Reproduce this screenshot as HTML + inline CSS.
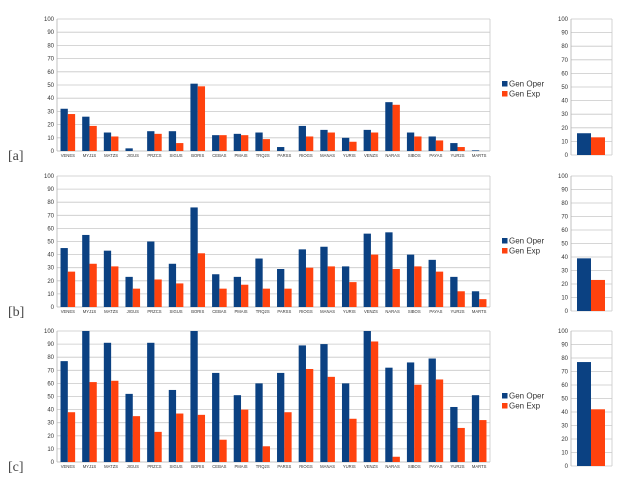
<!DOCTYPE html>
<html><head><meta charset="utf-8">
<style>
body{margin:0;background:#fff;width:629px;height:484px;overflow:hidden;font-family:"Liberation Sans",sans-serif}
svg{display:block}
</style></head>
<body>
<svg id="c" width="629" height="484" xmlns="http://www.w3.org/2000/svg"></svg>
<script>
const categories=["VENES","MYJ1S","MATZS","JIGUS","PRZCS","SIGUS","BORIS","CEBAS","PMAIS","TRQ2S","PARSS","RIOGS","MANAS","YURIS","VENZS","NARAS","SIBOS","PAYAS","YUR2S","MARTS"];
const yTicks=[0,10,20,30,40,50,60,70,80,90,100];
const operA=[32,26,14,2,15,15,51,12,13,14,3,19,16,10,16,37,14,11,6,0.5];
const expA=[28,19,11,0,13,6,49,12,12,9,0,11,14,7,14,35,11,8,3,0];
const operB=[45,55,43,23,50,33,76,25,23,37,29,44,46,31,56,57,40,36,23,12];
const expB=[27,33,31,14,21,18,41,14,17,14,14,30,31,19,40,29,31,27,12,6];
const operC=[77,100,91,52,91,55,100,68,51,60,68,89,90,60,100,72,76,79,42,51];
const expC=[38,61,62,35,23,37,36,17,40,12,38,71,65,33,92,4,59,63,26,32];
const sideOper=[16,39,77];
const sideExp=[13,23,42];
const panelLabels=["[a]","[b]","[c]"];
const BLUE="#0b4182",RED="#ff420e";
const svg=document.getElementById('c');
const NS="http://www.w3.org/2000/svg";
function mk(t,a,txt){const e=document.createElementNS(NS,t);for(const k in a)e.setAttribute(k,a[k]);if(txt!=null)e.textContent=txt;svg.appendChild(e);return e;}
const panels=[{top:19,bot:151,sbot:155,oper:operA,exp:expA},{top:176,bot:307,sbot:311,oper:operB,exp:expB},{top:331,bot:462,sbot:466,oper:operC,exp:expC}];
panels.forEach((p,pi)=>{
  const x0=57,x1=490;
  const y=v=>p.bot-(v/100)*(p.bot-p.top);
  const ys=v=>p.sbot-(v/100)*(p.sbot-p.top);
  yTicks.forEach(t=>{
    const l=mk('line',{x1:x0,x2:x1,y1:y(t),y2:y(t),stroke:t==0?'#b3b3b3':'#c8c8c8','stroke-width':0.8});
    
    const tx=mk('text',{x:x0-3,y:y(t)+2,'font-size':6,'text-anchor':'end',fill:'#333'},t);
    
    const l2=mk('line',{x1:571,x2:612,y1:ys(t),y2:ys(t),stroke:'#c8c8c8','stroke-width':0.8});
    
    const t2=mk('text',{x:568,y:ys(t)+2,'font-size':6,'text-anchor':'end',fill:'#333'},t);
    
  });
  mk('line',{x1:x0,x2:x0,y1:p.top,y2:p.bot,stroke:'#b3b3b3','stroke-width':0.8});
  mk('line',{x1:x1,x2:x1,y1:p.top,y2:p.bot,stroke:'#c8c8c8','stroke-width':0.8});
  mk('line',{x1:571,x2:571,y1:p.top,y2:p.sbot,stroke:'#b3b3b3','stroke-width':0.8});
  mk('line',{x1:612,x2:612,y1:p.top,y2:p.sbot,stroke:'#c8c8c8','stroke-width':0.8});
  const bw=(x1-x0)/categories.length;
  categories.forEach((c,i)=>{
    const cx=x0+bw*(i+0.5);
    const b=mk('rect',{x:cx-7.3,y:y(p.oper[i]),width:7.3,height:p.bot-y(p.oper[i]),fill:BLUE});
    
    const r=mk('rect',{x:cx,y:y(p.exp[i]),width:7.3,height:p.bot-y(p.exp[i]),fill:RED});
    
    const t=mk('text',{x:cx,y:p.bot+6,'font-size':4.2,'text-anchor':'middle',fill:'#333'},c);
    
  });
  const sb=mk('rect',{x:577,y:ys(sideOper[pi]),width:14,height:p.sbot-ys(sideOper[pi]),fill:BLUE});
  
  const sr=mk('rect',{x:591,y:ys(sideExp[pi]),width:14,height:p.sbot-ys(sideExp[pi]),fill:RED});
  
  const ly=p.top+62;
  const lg1=mk('rect',{x:502,y:ly,width:5.5,height:5.5,fill:BLUE});
  
  const lt1=mk('text',{x:509,y:ly+5.5,'font-size':8,fill:'#333'},'Gen Oper');
  
  const lg2=mk('rect',{x:502,y:ly+10,width:5.5,height:5.5,fill:RED});
  
  const lt2=mk('text',{x:509,y:ly+15.5,'font-size':8,fill:'#333'},'Gen Exp');
  
  const pl=mk('text',{x:8,y:p.bot+9,'font-size':14,fill:'#444','font-family':'Liberation Serif, serif'},panelLabels[pi]);
  
});
</script>
</body></html>
